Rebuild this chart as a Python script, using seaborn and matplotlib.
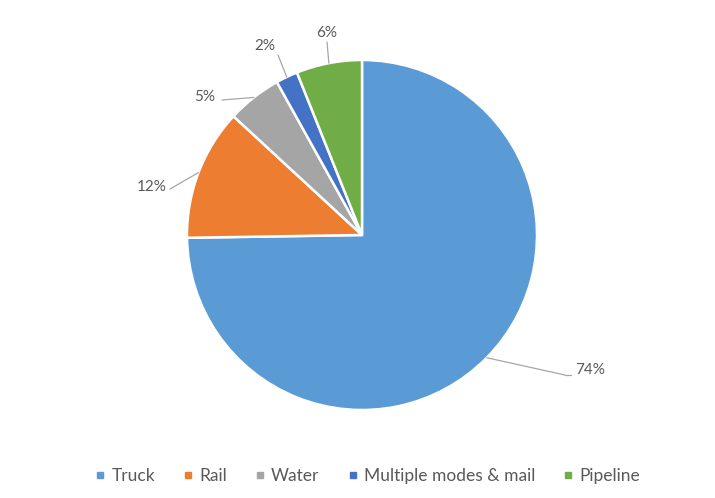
import numpy as np
import matplotlib
matplotlib.use("Agg")
import matplotlib.pyplot as plt
from matplotlib.lines import Line2D
import seaborn as sns

sns.set_theme(style="white")
plt.rcParams["font.family"] = ["Lato", "DejaVu Sans"]

# Freight share by mode
modes = ["Truck", "Rail", "Water", "Multiple modes & mail", "Pipeline"]
shares = [74, 12, 5, 2, 6]
colors = ["#5B9BD5", "#ED7D31", "#A5A5A5", "#4472C4", "#70AD47"]

W, H = 715, 498
fig = plt.figure(figsize=(W / 100, H / 100), dpi=100)
ax = fig.add_axes([0, 0, 1, 1])

cx, cy, r = 362, H - 235, 175
wedges, _ = ax.pie(
    shares, colors=colors, startangle=90, counterclock=False,
    center=(cx, cy), radius=r, frame=True,
    wedgeprops=dict(edgecolor="white", linewidth=1.8),
)
ax.set_xlim(0, W)
ax.set_ylim(0, H)
ax.set_aspect("equal")
ax.axis("off")

# label text anchors (pixel, from top) and leader-line ends
label_pos = [(590, 370), (152, 187), (205, 97), (265, 46), (327, 33)]
elbows = [(565, 375), (170, 189), (222, 100), (278, 55), (327, 42)]
tcolor = "#595959"
for w, v, (tx, ty), (ex, ey) in zip(wedges, shares, label_pos, elbows):
    ang = np.deg2rad((w.theta1 + w.theta2) / 2)
    px, py = cx + r * np.cos(ang), cy + r * np.sin(ang)
    ax.plot([px, ex], [py, H - ey], color="#A6A6A6", lw=0.9)
    if v == 74:
        ax.plot([ex, ex + 6], [H - ey, H - ey], color="#A6A6A6", lw=0.9)
    ax.text(tx, H - ty, f"{v}%", ha="center", va="center",
            fontsize=11, color=tcolor)

handles = [Line2D([], [], marker="s", linestyle="none", markersize=4,
                  markerfacecolor=c, markeredgecolor=c) for c in colors]
fig.legend(handles, modes, loc="center", bbox_to_anchor=(0.514, 1 - 476 / H),
           ncol=5, frameon=False, fontsize=12.5, labelcolor=tcolor,
           handlelength=0.6, handletextpad=0.35, columnspacing=1.6)

fig.savefig("out.png", dpi=100, facecolor="white")
